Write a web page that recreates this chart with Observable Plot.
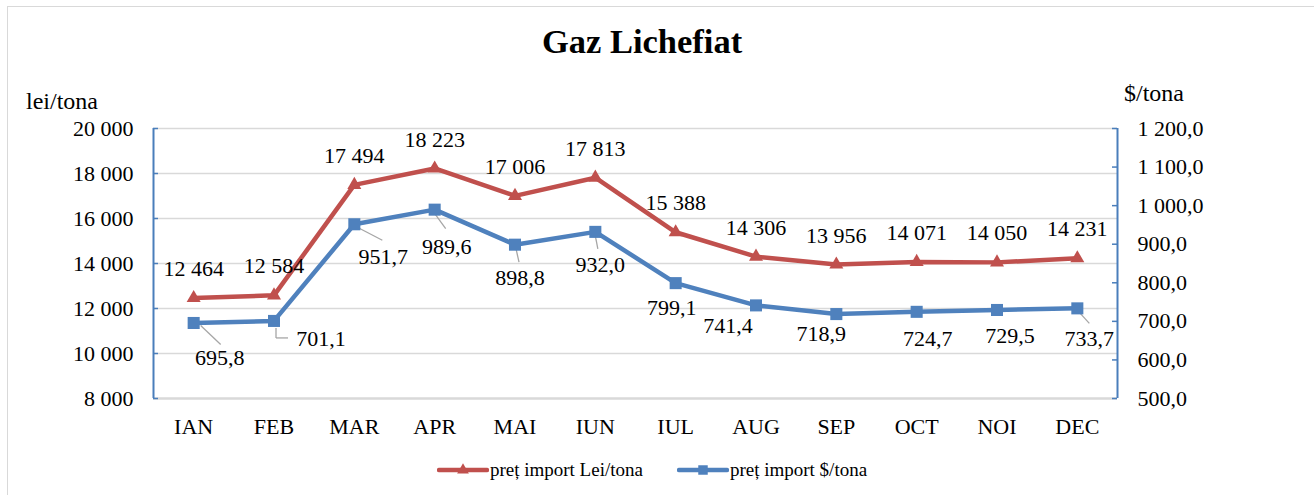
<!DOCTYPE html>
<html>
<head>
<meta charset="utf-8">
<script src="https://cdn.jsdelivr.net/npm/d3@7"></script>
<script src="https://cdn.jsdelivr.net/npm/@observablehq/plot@0.6"></script>
<style>
  html, body { margin: 0; padding: 0; background: #fff; }
  body { width: 1314px; height: 495px; overflow: hidden; position: relative; font-family: "Liberation Serif", "Times New Roman", serif; color: #000; }
  #frame { position: absolute; left: 7px; top: 6px; width: 1330px; height: 520px; border: 1px solid #d9d9d9; box-sizing: border-box; }
  #title { position: absolute; left: 0; width: 1284px; top: 20px; text-align: center; font-weight: bold; font-size: 34.5px; line-height: 42px; }
  .unit { position: absolute; font-size: 24px; line-height: 26px; }
  #chart { position: absolute; left: 0; top: 100px; }
  #legend { position: absolute; top: 459px; left: 0; width: 1304px; display: flex; justify-content: center; align-items: center; font-size: 19px; }
  .item { display: flex; align-items: center; margin: 0 17px; }
  .item svg { display: block; margin-right: 1px; }
</style>
</head>
<body>
<div id="frame"></div>
<div id="title">Gaz Lichefiat</div>
<div class="unit" style="left:26px; top:88px;">lei/tona</div>
<div class="unit" style="left:1124px; top:80px;">$/tona</div>
<div id="chart"></div>
<div id="legend"></div>
<script>
// ---- data ----
const months = ["IAN", "FEB", "MAR", "APR", "MAI", "IUN", "IUL", "AUG", "SEP", "OCT", "NOI", "DEC"];
const leiValues = [12464, 12584, 17494, 18223, 17006, 17813, 15388, 14306, 13956, 14071, 14050, 14231];
const usdValues = [695.8, 701.1, 951.7, 989.6, 898.8, 932.0, 799.1, 741.4, 718.9, 724.7, 729.5, 733.7];
const leiTicks = [8000, 10000, 12000, 14000, 16000, 18000, 20000];
const usdTicks = [500, 600, 700, 800, 900, 1000, 1100, 1200];
const seriesNames = ["preț import Lei/tona", "preț import $/tona"];

// ---- layout (label placement, px offsets) ----
const usdLabelOffsets = [[26, 35], [47, 18], [29, 33], [12, 37], [5, 33], [5, 33], [-4, 25], [-28, 21], [-15, 20], [11, 27], [13, 26], [12, 31]];
const usdLeaders = [
  {i: 0, from: [7, 2.5], to: [27, 21.5]},
  {i: 1, from: [2, 7], to: [2, 17]},
  {i: 1, from: [2, 17], to: [14, 17]},
  {i: 2, from: [3, 3], to: [28, 16]},
  {i: 3, from: [-1, 2.5], to: [11, 19]},
  {i: 4, from: [1, 4], to: [4, 17.5]},
  {i: 5, from: [0, 4], to: [2.5, 17]},
  {i: 11, from: [2, 4], to: [12, 15]}
];

const W = 1314, H = 350, mL = 153, mR = 197, mT = 28, mB = 52;
const frameW = W - mL - mR, frameH = H - mT - mB;
const red = "#c0504d", blue = "#4f81bd", axisBlue = "#4a7ebb", grid = "#d9d9d9";

const yMin = leiTicks[0], yMax = leiTicks[leiTicks.length - 1];
const uMin = usdTicks[0], uMax = usdTicks[usdTicks.length - 1];
const toLeft = v => yMin + (v - uMin) * (yMax - yMin) / (uMax - uMin);
const kx = 12 / frameW, ky = (yMax - yMin) / frameH;

const fmtLei = v => d3.format(",")(v).replace(/,/g, " ");
const fmtUsd = v => d3.format(",.1f")(v).replace(/,/g, " ").replace(".", ",");

const leaderData = usdLeaders.map(l => ({
  x1: l.i + l.from[0] * kx, y1: toLeft(usdValues[l.i]) - l.from[1] * ky,
  x2: l.i + l.to[0] * kx, y2: toLeft(usdValues[l.i]) - l.to[1] * ky
}));

const plot = Plot.plot({
  width: W, height: H,
  marginLeft: mL, marginRight: mR, marginTop: mT, marginBottom: mB,
  x: {type: "linear", domain: [-0.5, 11.5], axis: null},
  y: {domain: [yMin, yMax], axis: null},
  style: {fontFamily: "'Liberation Serif', 'Times New Roman', serif", fontSize: "22px", color: "#000", background: "transparent", overflow: "visible"},
  marks: [
    Plot.ruleY(leiTicks.slice(1), {stroke: grid, strokeWidth: 1.5}),
    Plot.ruleY([yMin], {stroke: grid, strokeWidth: 2.5}),
    Plot.ruleX([-0.5], {stroke: axisBlue, strokeWidth: 2}),
    Plot.ruleX([11.5], {stroke: axisBlue, strokeWidth: 2}),
    Plot.ruleY(leiTicks, {insetRight: frameW - 5, stroke: axisBlue, strokeWidth: 1.5}),
    Plot.ruleY(usdTicks.map(toLeft), {insetLeft: frameW - 5, stroke: axisBlue, strokeWidth: 1.5}),
    Plot.text(leiTicks, {x: -0.5, y: d => d, text: fmtLei, textAnchor: "end", dx: -20, fill: "#000", fontSize: 22}),
    Plot.text(usdTicks, {x: 11.5, y: toLeft, text: fmtUsd, textAnchor: "start", dx: 20, fill: "#000", fontSize: 22}),
    Plot.text(months, {x: (d, i) => i, y: yMin, dy: 28, text: d => d, fill: "#000", fontSize: 22}),
    Plot.link(leaderData, {x1: "x1", y1: "y1", x2: "x2", y2: "y2", stroke: "#a6a6a6", strokeWidth: 1.3}),
    Plot.line(leiValues, {x: (d, i) => i, y: d => d, stroke: red, strokeWidth: 4.5, strokeLinejoin: "round"}),
    Plot.line(usdValues, {x: (d, i) => i, y: toLeft, stroke: blue, strokeWidth: 4.5, strokeLinejoin: "round"}),
    Plot.dot(leiValues, {x: (d, i) => i, y: d => d, symbol: "triangle", r: 5.2, fill: red, stroke: "none"}),
    Plot.dot(usdValues, {x: (d, i) => i, y: toLeft, symbol: "square", r: 6.8, fill: blue, stroke: "none"}),
    Plot.text(leiValues, {x: (d, i) => i, y: d => d, text: fmtLei, dy: -29, fill: "#000", fontSize: 22}),
    ...usdValues.map((v, i) => Plot.text([v], {x: i, y: toLeft, text: fmtUsd, dx: usdLabelOffsets[i][0], dy: usdLabelOffsets[i][1], fill: "#000", fontSize: 22}))
  ]
});
document.getElementById("chart").appendChild(plot);

// legend
const legend = d3.select("#legend");
[[red, "triangle"], [blue, "square"]].forEach(([c, sym], k) => {
  const item = legend.append("div").attr("class", "item");
  const s = item.append("svg").attr("width", 52).attr("height", 16);
  s.append("line").attr("x1", 2).attr("x2", 50).attr("y1", 8).attr("y2", 8)
    .attr("stroke", c).attr("stroke-width", 4.5).attr("stroke-linecap", "round");
  s.append("path").attr("transform", "translate(26,8)")
    .attr("d", d3.symbol(sym === "triangle" ? d3.symbolTriangle : d3.symbolSquare, sym === "triangle" ? 60 : 90)())
    .attr("fill", c);
  item.append("span").text(seriesNames[k]);
});
</script>
</body>
</html>
